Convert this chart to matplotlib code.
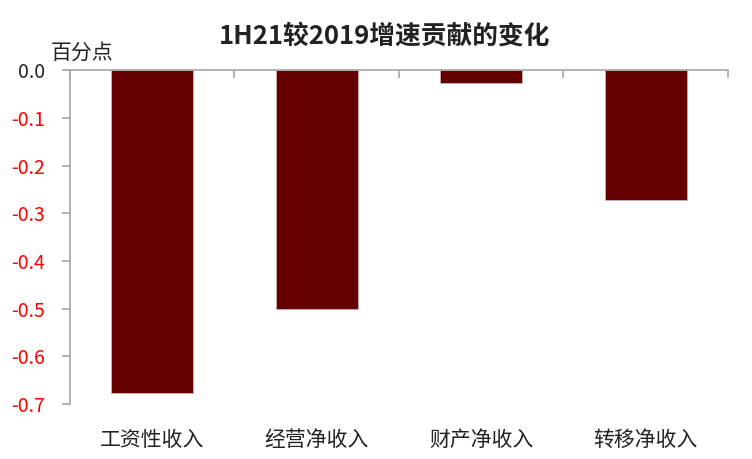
import matplotlib

matplotlib.use("Agg")
import matplotlib.pyplot as plt
import numpy as np

plt.rcParams["font.family"] = ["Noto Sans CJK SC", "DejaVu Sans"]

categories = ["工资性收入", "经营净收入", "财产净收入", "转移净收入"]
values = [-0.677, -0.501, -0.027, -0.272]
yticks = [0.0, -0.1, -0.2, -0.3, -0.4, -0.5, -0.6, -0.7]

BAR = "#640000"
SPINE = "#a6a6a6"

fig = plt.figure(figsize=(7.52, 4.59), dpi=100)
ax = fig.add_axes([0.093, 0.12, 0.875, 0.727])

x = np.arange(len(categories))
ax.bar(x, values, width=0.5, color=BAR, edgecolor="#c8b4b4", linewidth=0.6, zorder=2)

ax.set_xlim(-0.5, len(categories) - 0.5)
ax.set_ylim(-0.7, 0.0)
ax.set_yticks(yticks)
ax.set_yticklabels([f"{v:.1f}" for v in yticks], fontsize=14)
for lbl, v in zip(ax.get_yticklabels(), yticks):
    lbl.set_color("#222222" if v == 0 else "#ff0000")

# category ticks sit on the boundaries of the zero line, labels below the plot
ax.xaxis.set_ticks_position("top")
ax.set_xticks(np.arange(len(categories) + 1) - 0.5)
ax.set_xticklabels([])
ax.tick_params(axis="x", direction="in", length=6, color=SPINE, width=1.2)
ax.tick_params(axis="y", direction="out", length=6, color=SPINE, width=1.2, pad=12)
for i, c in enumerate(categories):
    ax.text(i, -0.775, c, ha="center", va="center", fontsize=15, color="#222222")

ax.spines["right"].set_visible(False)
ax.spines["bottom"].set_visible(False)
for s in ("left", "top"):
    ax.spines[s].set_color(SPINE)
    ax.spines[s].set_linewidth(1.2)

fig.text(0.512, 0.922, "1H21较2019增速贡献的变化", ha="center", va="center",
         fontsize=18.5, fontweight="bold", color="#222222")
fig.text(0.068, 0.885, "百分点", ha="left", va="center", fontsize=15, color="#222222")

fig.savefig("out.png", dpi=100)
